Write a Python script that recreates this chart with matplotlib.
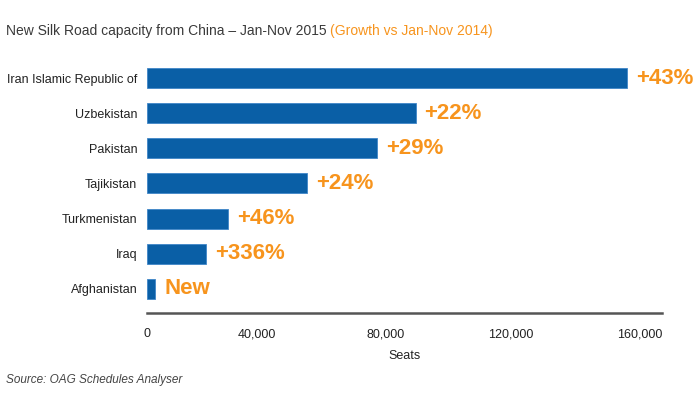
import matplotlib
matplotlib.use('Agg')
import matplotlib.pyplot as plt
from matplotlib.ticker import FuncFormatter

countries = ['Iran Islamic Republic of', 'Uzbekistan', 'Pakistan', 'Tajikistan',
             'Turkmenistan', 'Iraq', 'Afghanistan']
seats = [149000, 83400, 71500, 49600, 25300, 18300, 2600]
growth = ['+43%', '+22%', '+29%', '+24%', '+46%', '+336%', 'New']
ticks = [0, 40000, 80000, 120000, 160000]

blue = '#0A5FA6'
orange = '#F7941D'
plt.rcParams['font.family'] = ['Liberation Sans', 'DejaVu Sans']

fig = plt.figure(figsize=(7, 4), dpi=100)
ax = fig.add_axes([0.21, 0.2175, 0.736, 0.64])

y = list(range(len(countries)))
ax.barh(y, seats, height=0.57, color=blue, edgecolor='#3F86C8', linewidth=0.6)

# growth labels next to bars
for yi, v, g in zip(y, seats, growth):
    ax.annotate(g, xy=(v, yi), xytext=(6.5, 0), textcoords='offset points',
                ha='left', va='center', fontsize=16, fontweight='bold', color=orange)

ax.set_yticks(y)
ax.set_yticklabels(countries, fontsize=9, color='#222222')
ax.set_ylim(6.69, -0.6)
ax.set_xlim(0, 160000)
ax.set_xticks(ticks)
ax.xaxis.set_major_formatter(FuncFormatter(lambda v, p: f'{int(v):,}'))
ax.tick_params(axis='both', length=0)
ax.tick_params(axis='x', pad=11, labelsize=9, labelcolor='#222222')
ax.tick_params(axis='y', pad=7)
for i, lbl in enumerate(ax.get_xticklabels()):
    lbl.set_ha('center' if i == 0 else 'right')

for s in ['top', 'right', 'left']:
    ax.spines[s].set_visible(False)
ax.spines['bottom'].set_color('#555555')
ax.spines['bottom'].set_linewidth(1.8)

ax.set_xlabel('Seats', fontsize=9, color='#222222', labelpad=7)

t1 = fig.text(0.008, 0.922, 'New Silk Road capacity from China \u2013 Jan-Nov 2015 ',
              fontsize=10, color='#3a3a3a', va='center', ha='left')
fig.canvas.draw()
ax.annotate('(Growth vs Jan-Nov 2014)', xy=(1, 0), xycoords=t1, va='bottom', ha='left',
            fontsize=10, color=orange)

fig.text(0.008, 0.05, 'Source: OAG Schedules Analyser', fontsize=8.5, style='italic',
         color='#444444', va='center', ha='left')

plt.savefig('out.png', dpi=100)
